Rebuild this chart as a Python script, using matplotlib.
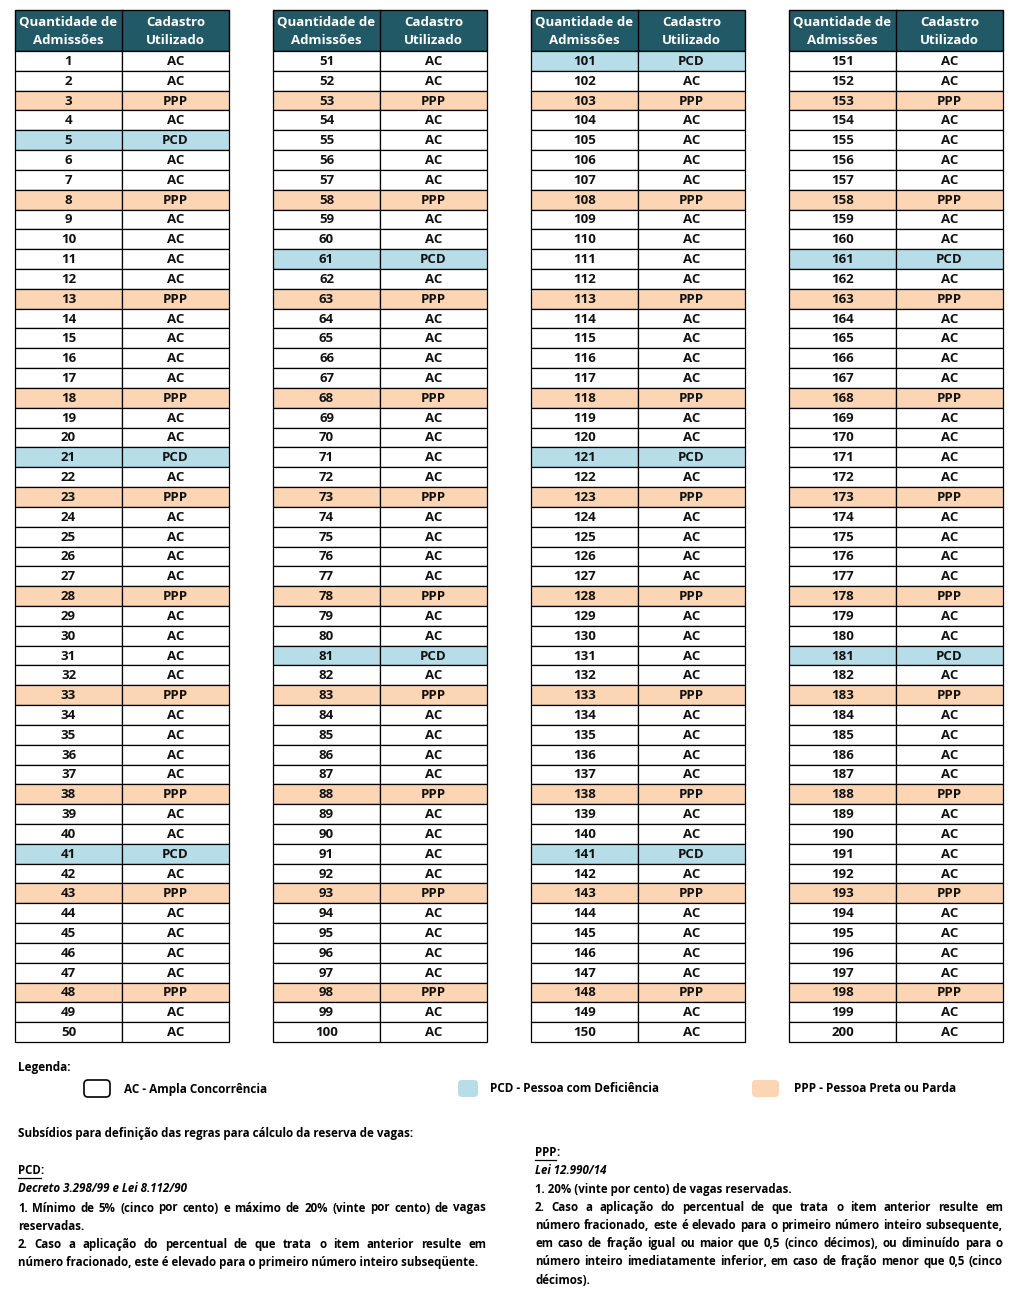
import matplotlib.pyplot as plt
from matplotlib.patches import Rectangle, FancyBboxPatch

# table data
admissions = list(range(1, 201))
pcd_rows = [5, 21, 41, 61, 81, 101, 121, 141, 161, 181]
ppp_rows = [3, 8, 13, 18, 23, 28, 33, 38, 43, 48,
            53, 58, 63, 68, 73, 78, 83, 88, 93, 98,
            103, 108, 113, 118, 123, 128, 133, 138, 143, 148,
            153, 158, 163, 168, 173, 178, 183, 188, 193, 198]
headers = ["Quantidade de\nAdmissões", "Cadastro\nUtilizado"]

legend_items = ["AC - Ampla Concorrência", "PCD - Pessoa com Deficiência",
                "PPP - Pessoa Preta ou Parda"]

left_lines = [
    "1. Mínimo de 5% (cinco por cento) e máximo de 20% (vinte por cento) de vagas",
    "reservadas.",
    "2. Caso a aplicação do percentual de que trata o item anterior resulte em",
    "número fracionado, este é elevado para o primeiro número inteiro subseqüente.",
]
right_lines = [
    "1. 20% (vinte por cento) de vagas reservadas.",
    "2. Caso a aplicação do percentual de que trata o item anterior resulte em",
    "número fracionado, este é elevado para o primeiro número inteiro subsequente,",
    "em caso de fração igual ou maior que 0,5 (cinco décimos), ou diminuído para o",
    "número inteiro imediatamente inferior, em caso de fração menor que 0,5 (cinco",
    "décimos).",
]

HEAD = "#215967"
PCD_C = "#B7DEE8"
PPP_C = "#FCD5B4"

plt.rcParams['font.family'] = ['Open Sans', 'DejaVu Sans']

fig = plt.figure(figsize=(10.24, 12.97), dpi=100)
ax = fig.add_axes([0, 0, 1, 1])
ax.set_xlim(0, 1024)
ax.set_ylim(1297, 0)
ax.axis('off')

table_x = [15, 273, 531, 789]
col_w = [107, 107]
top, head_h = 10, 41
row_h = (1042 - 51) / 50
FS = 9.5

for t, x0 in enumerate(table_x):
    # header
    ax.add_patch(Rectangle((x0, top), sum(col_w), head_h, facecolor=HEAD,
                           edgecolor='black', lw=1))
    ax.plot([x0 + col_w[0]] * 2, [top, top + head_h], color='black', lw=1)
    for c, h in enumerate(headers):
        ax.text(x0 + sum(col_w[:c]) + col_w[c] / 2, top + head_h / 2 + 0.5, h,
                ha='center', va='center', color='white', fontsize=FS,
                fontweight='bold', linespacing=1.5)
    for r in range(50):
        n = admissions[t * 50 + r]
        if n in pcd_rows:
            cat, fc = "PCD", PCD_C
        elif n in ppp_rows:
            cat, fc = "PPP", PPP_C
        else:
            cat, fc = "AC", "white"
        y = top + head_h + r * row_h
        for c, val in enumerate([str(n), cat]):
            cx = x0 + sum(col_w[:c])
            ax.add_patch(Rectangle((cx, y), col_w[c], row_h, facecolor=fc,
                                   edgecolor='black', lw=0.9))
            ax.text(cx + col_w[c] / 2, y + row_h / 2 + 0.5, val, ha='center',
                    va='center', fontsize=FS, fontweight='bold', color='#111111')

# legend
ax.text(18, 1067, "Legenda:", fontsize=8.5, fontweight='bold', va='center')
boxes = [(84, 26, 'white', 'black'), (458, 20, PCD_C, 'none'), (752, 27, PPP_C, 'none')]
text_x = [124, 490, 794]
for (bx, bw, fc, ec), tx, lab in zip(boxes, text_x, legend_items):
    ax.add_patch(FancyBboxPatch((bx, 1080), bw, 17, boxstyle="round,pad=0,rounding_size=4",
                                facecolor=fc, edgecolor=ec, lw=1.2))
    ax.text(tx, 1089, lab, fontsize=8.5, fontweight='bold', va='center')

ax.text(18, 1133, "Subsídios para definição das regras para cálculo da reserva de vagas:",
        fontsize=8.4, fontweight='bold', va='center')

fig.canvas.draw()
renderer = fig.canvas.get_renderer()


def justified(lines, x0, x1, y0, dy, last_free, fs):
    for i, line in enumerate(lines):
        y = y0 + i * dy
        if i in last_free:
            ax.text(x0, y, line, fontsize=fs, fontweight='bold', va='center')
            continue
        words = line.split(" ")
        texts = [ax.text(0, y, w, fontsize=fs, fontweight='bold', va='center')
                 for w in words]
        widths = [t.get_window_extent(renderer).width for t in texts]
        gap = (x1 - x0 - sum(widths)) / (len(words) - 1)
        x = x0
        for t, w in zip(texts, widths):
            t.set_x(x)
            x += w + gap


def underlined(x, y, word, fs):
    t = ax.text(x, y, word, fontsize=fs, fontweight='bold', va='center')
    w = t.get_window_extent(renderer).width
    ax.plot([x, x + w], [y + 8, y + 8], color='black', lw=0.9)
    ax.text(x + w, y, ":", fontsize=fs, fontweight='bold', va='center')


BFS = 8.3
# PCD block
underlined(18, 1170, "PCD", BFS)
ax.text(18, 1189, "Decreto 3.298/99 e Lei 8.112/90", fontsize=BFS,
        fontweight='bold', style='italic', va='center')
justified(left_lines, 18, 486, 1208, 18.2, {1, 3}, BFS)

# PPP block
underlined(535, 1152, "PPP", BFS)
ax.text(535, 1170, "Lei 12.990/14", fontsize=BFS, fontweight='bold',
        style='italic', va='center')
justified(right_lines, 535, 1003, 1189, 18.2, {0, 5}, BFS)

fig.savefig("out.png", dpi=100)
